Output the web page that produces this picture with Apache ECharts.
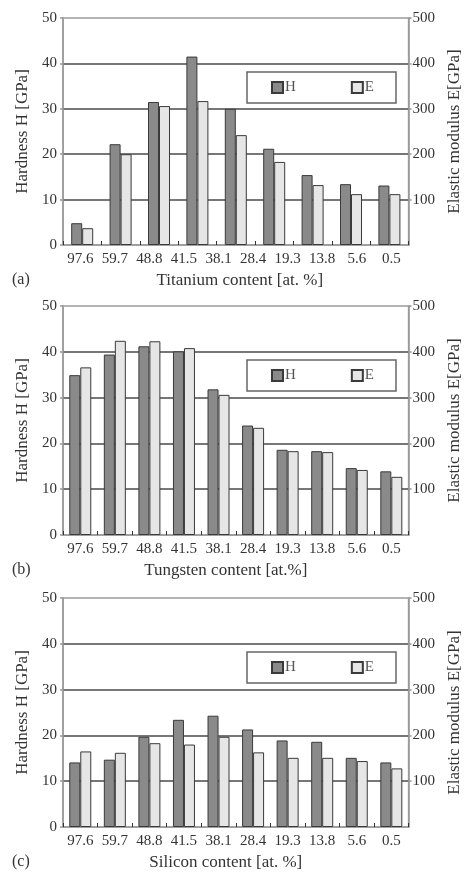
<!DOCTYPE html>
<html>
<head>
<meta charset="utf-8">
<script src="https://cdn.jsdelivr.net/npm/echarts@6/dist/echarts.min.js"></script>
<style>
  html, body { margin: 0; padding: 0; background: #fff; }
  #chart { width: 471px; height: 872px; }
</style>
</head>
<body>
<div id="chart"></div>
<script>
// Composition labels shown under each panel
const contentLabels = ['97.6', '59.7', '48.8', '41.5', '38.1', '28.4', '19.3', '13.8', '5.6', '0.5'];

// Panel (a): Ti-containing films (nine measured samples)
const tiGroups = ['1', '2', '3', '4', '5', '6', '7', '8', '9'];
const tiHardness = [4.8, 22.2, 31.5, 41.5, 30.0, 21.2, 15.4, 13.4, 13.1];
const tiModulus = [37, 200, 306, 317, 242, 183, 132, 112, 112];

// Panel (b): W-containing films
const wHardness = [34.9, 39.4, 41.2, 40.1, 31.8, 23.9, 18.6, 18.3, 14.6, 13.9];
const wModulus = [366, 424, 423, 408, 306, 234, 183, 181, 142, 127];

// Panel (c): Si-containing films
const siHardness = [14.1, 14.7, 19.7, 23.4, 24.3, 21.3, 18.9, 18.6, 15.1, 14.1];
const siModulus = [165, 162, 183, 180, 197, 163, 151, 151, 144, 128];

// Axis ticks
const hardnessTicks = { min: 0, max: 50, interval: 10 };
const modulusTicks = { min: 0, max: 500, interval: 100 };

const xTitles = ['Titanium content [at. %]', 'Tungsten content [at.%]', 'Silicon content [at. %]'];
const panelTags = ['(a)', '(b)', '(c)'];

const FONT = 'Liberation Serif';
const frameColor = '#9a9a9a';
const gridLineColor = '#4a4a4a';
const textColor = '#333';
const hColor = '#8a8a8a';
const eColor = '#e6e6e6';
const edgeColor = '#3a3a3a';

const panels = [
  { top: 18, height: 227 },
  { top: 306, height: 229 },
  { top: 598, height: 229 }
];

const grid = panels.map(p => ({
  left: 63, right: 48, top: p.top, height: p.height,
  show: true, borderColor: frameColor, borderWidth: 1.5, backgroundColor: '#fff'
}));

const xAxis = [];
const yAxis = [];
const series = [];
const legend = [];
const graphic = [];

function barAxis(gridIndex, cats) {
  return {
    type: 'category', gridIndex, data: cats, position: 'bottom',
    boundaryGap: true,
    axisLine: { show: true, lineStyle: { color: frameColor, width: 1.5 } },
    axisTick: { show: true, inside: true, length: 4, lineStyle: { color: '#333', width: 1 } },
    axisLabel: { show: false },
    splitLine: { show: false }
  };
}

function labelAxis(gridIndex, name, shift) {
  return {
    type: 'category', gridIndex, data: contentLabels, position: 'bottom',
    boundaryGap: true,
    axisLine: { show: false },
    axisTick: { show: false },
    axisLabel: { show: true, margin: 7, fontFamily: FONT, fontSize: 15, color: textColor },
    name, nameLocation: 'middle', nameGap: 27,
    nameTextStyle: { fontFamily: FONT, fontSize: 17, color: textColor, padding: [0, 0, 0, shift] }
  };
}

function valueAxes(gridIndex) {
  yAxis.push({
    type: 'value', gridIndex, position: 'left', ...hardnessTicks,
    name: 'Hardness H [GPa]', nameLocation: 'middle', nameGap: 27, nameRotate: 90,
    nameTextStyle: { fontFamily: FONT, fontSize: 17, color: textColor },
    axisLine: { show: true, lineStyle: { color: frameColor, width: 1.5 } },
    axisTick: { show: true, length: 3, lineStyle: { color: frameColor, width: 1.5 } },
    axisLabel: { margin: 6, fontFamily: FONT, fontSize: 15, color: textColor },
    splitLine: { show: true, showMinLine: false, showMaxLine: false,
                 lineStyle: { color: gridLineColor, width: 1.5 } }
  });
  yAxis.push({
    type: 'value', gridIndex, position: 'right', ...modulusTicks,
    name: 'Elastic modulus E[GPa]', nameLocation: 'middle', nameGap: 28, nameRotate: 90,
    nameTextStyle: { fontFamily: FONT, fontSize: 17, color: textColor },
    axisLine: { show: true, lineStyle: { color: frameColor, width: 1.5 } },
    axisTick: { show: true, length: 3, lineStyle: { color: frameColor, width: 1.5 } },
    axisLabel: { margin: 4, fontFamily: FONT, fontSize: 15, color: textColor, showMinLabel: false },
    splitLine: { show: false }
  });
}

function barPair(xIdx, yLeft, yRight, hVals, eVals) {
  const common = { type: 'bar', xAxisIndex: xIdx, barWidth: 11, barGap: '0%', animation: false };
  series.push({ ...common, name: 'H', yAxisIndex: yLeft, data: hVals,
    itemStyle: { color: hColor, borderColor: edgeColor, borderWidth: 1 } });
  series.push({ ...common, name: 'E', yAxisIndex: yRight, data: eVals,
    itemStyle: { color: eColor, borderColor: edgeColor, borderWidth: 1 } });
}

const datasets = [
  { cats: tiGroups, h: tiHardness, e: tiModulus },
  { cats: contentLabels, h: wHardness, e: wModulus },
  { cats: contentLabels, h: siHardness, e: siModulus }
];
const titleShift = [8, -20, -20];

datasets.forEach((d, i) => {
  const barIdx = xAxis.length;
  xAxis.push(barAxis(i, d.cats));
  xAxis.push(labelAxis(i, xTitles[i], titleShift[i]));
  valueAxes(i);
  barPair(barIdx, i * 2, i * 2 + 1, d.h, d.e);

  legend.push({
    data: ['H', 'E'],
    left: 247, top: panels[i].top + 54,
    orient: 'horizontal', icon: 'rect',
    itemWidth: 11, itemHeight: 11, itemGap: 55,
    padding: [8, 22, 8, 24],
    borderColor: '#666', borderWidth: 1.5, backgroundColor: '#fff',
    selectedMode: false,
    textStyle: { fontFamily: FONT, fontSize: 15, color: '#555', padding: [0, 0, 0, -3] }
  });

  graphic.push({
    type: 'text', left: 12, top: panels[i].top + panels[i].height + 27,
    style: { text: panelTags[i], font: '16px "Liberation Serif"', fill: textColor }
  });
});

const chart = echarts.init(document.getElementById('chart'));
chart.setOption({
  backgroundColor: '#fff',
  animation: false,
  grid, xAxis, yAxis, series, legend, graphic
});
</script>
</body>
</html>
